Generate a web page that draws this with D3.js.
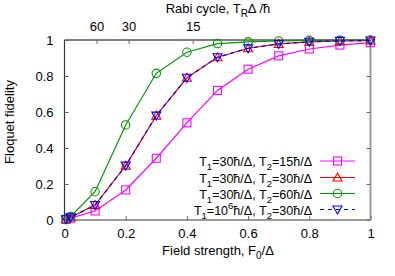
<!DOCTYPE html>
<html lang="en">
<head>
<meta charset="utf-8">
<title>Floquet fidelity</title>
<script src="https://cdn.jsdelivr.net/npm/d3@7"></script>
<style>
  body { margin: 0; background: #fff; }
  text { font-family: "Liberation Sans", Arial, sans-serif; fill: #000; }
  .tick text { font-size: 13px; }
  .lbl { font-size: 13px; }
  .leg { font-size: 12.5px; }
</style>
</head>
<body>
<svg id="chart" width="395" height="276"></svg>
<script>
// field strength F0/Delta
var fieldX = [0.005, 0.02, 0.1, 0.2, 0.3, 0.4, 0.5, 0.6, 0.7, 0.8, 0.9, 1.0];

var fidT2_15 = [0.003, 0.01, 0.05, 0.167, 0.343, 0.54, 0.72, 0.838, 0.912, 0.95, 0.972, 0.985];
var fidT2_30 = [0.004, 0.015, 0.083, 0.302, 0.58, 0.79, 0.904, 0.954, 0.978, 0.99, 0.995, 0.997];
var fidT2_60 = [0.005, 0.02, 0.157, 0.528, 0.815, 0.932, 0.98, 0.99, 0.995, 0.998, 0.999, 1.0];
var fidT1_1e6 = [0.004, 0.015, 0.083, 0.302, 0.58, 0.79, 0.904, 0.954, 0.978, 0.99, 0.995, 0.997];

var xTicks = [0, 0.2, 0.4, 0.6, 0.8, 1];
var yTicks = [0, 0.2, 0.4, 0.6, 0.8, 1];
var rabiTicks = [60, 30, 15];

var series = [
  {vals: fidT2_15, color: "#ff00ff", marker: "square", dash: null, t1: "30", t2: "15"},
  {vals: fidT2_30, color: "#ff0000", marker: "tri", dash: null, t1: "30", t2: "30"},
  {vals: fidT2_60, color: "#009900", marker: "circle", dash: null, t1: "30", t2: "60"},
  {vals: fidT1_1e6, color: "#0000ff", marker: "itri", dash: "4,4", t1: "10", t2: "30", sup: "6"}
];

var margin = {top: 40, right: 24, bottom: 56, left: 64.5},
    width = 370.5 - margin.left,
    height = 220 - margin.top;

var svg = d3.select("#chart");
var g = svg.append("g").attr("transform", "translate(" + margin.left + "," + margin.top + ")");

var x = d3.scaleLinear().domain([0, 1]).range([0, width]);
var y = d3.scaleLinear().domain([0, 1]).range([height, 0]);

// frame
g.append("line").attr("x1", width).attr("x2", width).attr("y1", 0).attr("y2", height)
  .attr("stroke", "#999").attr("stroke-width", 2);
g.append("line").attr("x1", 0).attr("x2", width).attr("y1", height).attr("y2", height)
  .attr("stroke", "#999").attr("stroke-width", 2);
g.append("line").attr("x1", 0).attr("x2", 0).attr("y1", 0).attr("y2", height)
  .attr("stroke", "#333").attr("stroke-width", 1.2);
g.append("line").attr("x1", 0).attr("x2", width).attr("y1", 0).attr("y2", 0)
  .attr("stroke", "#000").attr("stroke-width", 1.2);

// axes
var xAxis = g.append("g").attr("transform", "translate(0," + height + ")")
  .call(d3.axisBottom(x).tickValues(xTicks).tickFormat(d3.format("")).tickSize(-4).tickPadding(9));
var yAxis = g.append("g")
  .call(d3.axisLeft(y).tickValues(yTicks).tickFormat(d3.format("")).tickSize(-4).tickPadding(11));
var yRight = g.append("g").attr("transform", "translate(" + width + ",0)")
  .call(d3.axisRight(y).tickValues(yTicks).tickFormat("").tickSize(-4));
var xTop = g.append("g")
  .call(d3.axisTop(x).tickValues(rabiTicks.map(function(t) { return 2 * Math.PI / t; }))
    .tickFormat(function(d) { return Math.round(2 * Math.PI / d); }).tickSize(-4).tickPadding(9));
[xAxis, yAxis, yRight, xTop].forEach(function(a) {
  a.select(".domain").remove();
  a.selectAll(".tick line").attr("stroke", "#666");
  a.selectAll(".tick text").attr("fill", "#000");
});

// lines and markers
var line = d3.line().x(function(d, i) { return x(fieldX[i]); }).y(function(d) { return y(d); });

function marker(sel, type, color) {
  if (type === "square") {
    sel.append("rect").attr("x", -4).attr("y", -4).attr("width", 8).attr("height", 8);
  } else if (type === "circle") {
    sel.append("circle").attr("r", 4.2);
  } else if (type === "tri") {
    sel.append("path").attr("d", "M0,-4.5L4.5,3.5L-4.5,3.5Z");
  } else {
    sel.append("path").attr("d", "M0,4.5L4.5,-3.5L-4.5,-3.5Z");
  }
  sel.selectAll("*").attr("fill", "none").attr("stroke", color).attr("stroke-width", 1.1);
}

series.forEach(function(s) {
  g.append("path").datum(s.vals).attr("d", line)
    .attr("fill", "none").attr("stroke", s.color).attr("stroke-width", 1.2)
    .attr("stroke-dasharray", s.dash);
  s.vals.forEach(function(v, i) {
    var m = g.append("g").attr("transform", "translate(" + x(fieldX[i]) + "," + y(v) + ")");
    marker(m, s.marker, s.color);
  });
});

// legend
var legY = [161, 177.5, 193.5, 209.5];
series.forEach(function(s, i) {
  var ly = legY[i];
  var t = svg.append("text").attr("class", "leg").attr("x", 312).attr("y", ly + 5).attr("text-anchor", "end");
  t.append("tspan").text("T");
  t.append("tspan").attr("font-size", "9.5px").attr("dy", 4).text("1");
  if (s.sup) {
    t.append("tspan").attr("dy", -4).text("=" + s.t1);
    t.append("tspan").attr("font-size", "9.5px").attr("dy", -6).text(s.sup);
    t.append("tspan").attr("dy", 6).text("\u0127/\u0394, T");
  } else {
    t.append("tspan").attr("dy", -4).text("=" + s.t1 + "\u0127/\u0394, T");
  }
  t.append("tspan").attr("font-size", "9.5px").attr("dy", 4).text("2");
  t.append("tspan").attr("dy", -4).text("=" + s.t2 + "\u0127/\u0394");
  svg.append("line").attr("x1", 320).attr("x2", 355).attr("y1", ly).attr("y2", ly)
    .attr("stroke", s.color).attr("stroke-width", 1.2).attr("stroke-dasharray", s.dash);
  var m = svg.append("g").attr("transform", "translate(337.5," + ly + ")");
  marker(m, s.marker, s.color);
});

// axis labels
var xl = svg.append("text").attr("class", "lbl").attr("x", 218).attr("y", 255).attr("text-anchor", "middle");
xl.append("tspan").text("Field strength, F");
xl.append("tspan").attr("font-size", "10px").attr("dy", 4).text("0");
xl.append("tspan").attr("dy", -4).text("/\u0394");

var tl = svg.append("text").attr("class", "lbl").attr("x", 218).attr("y", 13).attr("text-anchor", "middle");
tl.append("tspan").text("Rabi cycle, T");
tl.append("tspan").attr("font-size", "10px").attr("dy", 4).text("R");
tl.append("tspan").attr("dy", -4).text("\u0394 /\u0127");

svg.append("text").attr("class", "lbl").attr("transform", "translate(14,122) rotate(-90)")
  .attr("text-anchor", "middle").text("Floquet fidelity");
</script>
</body>
</html>
